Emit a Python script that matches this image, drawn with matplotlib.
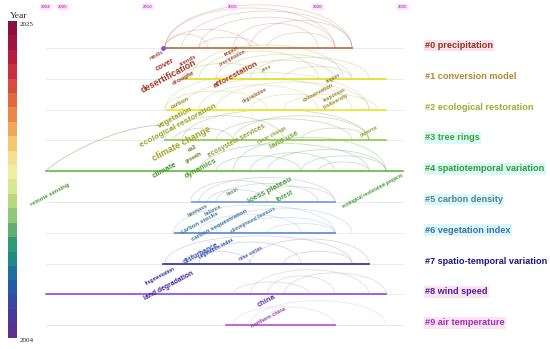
import numpy as np
import matplotlib
matplotlib.use("Agg")
import matplotlib.pyplot as plt
from matplotlib.colors import ListedColormap

# cluster rows (timeline view)
clusters = ["#0 precipitation", "#1 conversion model", "#2 ecological restoration",
            "#3 tree rings", "#4 spatiotemporal variation", "#5 carbon density",
            "#6 vegetation index", "#7 spatio-temporal variation", "#8 wind speed",
            "#9 air temperature"]
cl_start = [2011.0, 2012.0, 2011.1, 2011.0, 2004.0, 2012.6, 2011.6, 2010.9, 2004.0, 2014.6]
cl_end = [2022.0, 2024.0, 2024.0, 2024.0, 2025.0, 2021.0, 2021.0, 2023.0, 2024.0, 2021.0]
cl_line = ["#b0703a", "#e0e020", "#e8e820", "#8acc44", "#66bb44", "#6a9ae0",
           "#5a86e0", "#2a2aa8", "#8a48ee", "#b050e0"]
cl_text = ["#8a3a1c", "#b08a30", "#9ab030", "#4aa030", "#3a9a30", "#5a8090",
           "#4a6ab0", "#1a1a8a", "#5020a0", "#a030c0"]
cl_bg = ["#fde0ee", None, None, "#d8fafa", "#d8fafa", "#d8fafa", "#d8fafa", None,
         "#fde4f2", "#fde4f2"]

tick_years = [2004, 2005, 2010, 2015, 2020, 2025]

# keywords: text, year, row position, font size, colour
kw_text = ["modis", "trends", "cover", "desertification", "drought", "impact",
           "precipitation", "afforestation", "area",
           "carbon", "degradation", "region", "conservation", "responses", "biodiversity",
           "vegetation", "ecological restoration", "climate change", "co2", "growth",
           "ecosystem services", "cover change", "land use", "patterns",
           "climate", "dynamics", "remote sensing", "ecological restoration projects",
           "basin", "loess plateau", "forest", "biomass", "balance", "carbon stocks",
           "carbon sequestration", "aboveground biomass",
           "disturbance", "vegetation index", "time series",
           "fragmentation", "land degradation", "china", "northern china"]
kw_year = [2010.5, 2012.35, 2011.0, 2011.2, 2012.1, 2014.9,
           2015.0, 2015.2, 2017.0,
           2011.9, 2016.3, 2020.9, 2020.0, 2020.95, 2021.05,
           2011.6, 2011.8, 2011.95, 2012.6, 2012.7,
           2015.2, 2017.3, 2018.0, 2023.0,
           2011.0, 2013.1, 2004.25, 2023.2,
           2015.0, 2017.2, 2018.05, 2012.9, 2013.8, 2013.05,
           2014.2, 2016.2,
           2013.1, 2014.0, 2016.05,
           2010.7, 2011.2, 2017.0, 2017.1]
kw_row = [0.23, 0.39, 0.55, 0.91, 0.97, 0.10,
          0.32, 0.88, 0.65,
          1.79, 1.53, 0.97, 1.46, 1.53, 1.72,
          2.27, 2.53, 3.12, 3.25, 3.57,
          3.02, 2.82, 2.99, 2.69,
          3.96, 3.90, 4.77, 4.64,
          4.68, 4.64, 4.81, 5.26, 5.26, 5.68,
          5.75, 5.58,
          6.69, 6.53, 6.69,
          7.40, 7.73, 8.21, 8.77]
kw_size = [3.6, 4.3, 5.6, 6.4, 4.6, 3.5,
           3.5, 5.9, 3.5,
           4.4, 3.3, 3.5, 4.0, 3.5, 3.5,
           5.6, 5.9, 6.4, 4.0, 4.0,
           4.9, 3.5, 5.6, 3.5,
           5.6, 5.6, 4.2, 3.3,
           3.5, 5.6, 4.7, 4.0, 3.5, 4.4,
           4.4, 3.3,
           4.9, 3.5, 3.5,
           3.5, 4.9, 5.4, 4.0]
kw_color = ["#a04a30", "#a04030", "#b03222", "#a0341f", "#9a3a25", "#a04a35",
            "#a05a40", "#a83a20", "#909030",
            "#a08020", "#a06030", "#9a7a30", "#9a8020", "#9a8a30", "#9a8a30",
            "#a0a020", "#98a828", "#a0a020", "#607020", "#708020",
            "#90a030", "#90a030", "#80a830", "#90a030",
            "#409030", "#50a030", "#4a9a30", "#3a9a30",
            "#609060", "#50a040", "#50a040", "#4a7890", "#4a7890", "#3a7a8a",
            "#3a70a0", "#4a7aa0",
            "#3050b0", "#3050b0", "#4060b0",
            "#3030a0", "#4020a0", "#6030b0", "#9040b0"]

# arcs within a row: row, start year, end year, height (rows)
arc_row = [0, 0, 0, 0, 0, 0, 0, 0, 0, 0,
           1, 1, 1, 1, 1, 1, 1,
           2, 2, 2, 2, 2, 2, 2,
           3, 3, 3, 3, 3, 3,
           4, 4, 4, 4, 4, 4, 4,
           5, 5, 5, 5, 5,
           6, 6, 6, 6, 6,
           7, 7, 7, 7, 7,
           8, 8, 8, 8,
           9, 9]
arc_x0 = [2011, 2011, 2012, 2013, 2011, 2011, 2013, 2015, 2016, 2017,
          2012.5, 2013, 2014, 2015, 2016, 2018, 2012,
          2011, 2012, 2013, 2014, 2016, 2011, 2018,
          2011, 2012, 2014, 2015, 2019, 2011.5,
          2015, 2013, 2016, 2017, 2019, 2020, 2014,
          2013, 2014, 2013.5, 2016, 2012.5,
          2011.5, 2013, 2015, 2017, 2014,
          2011, 2013, 2016, 2018, 2012,
          2016, 2017, 2018, 2015,
          2015, 2016]
arc_x1 = [2022, 2021, 2022, 2021, 2016, 2013.5, 2016.5, 2020, 2022, 2021,
          2021.5, 2020, 2022, 2021, 2023, 2022, 2017,
          2023, 2022, 2020, 2023, 2021, 2017, 2023.5,
          2018, 2023, 2022, 2023, 2023, 2015,
          2024, 2023, 2021, 2024, 2024, 2023, 2019,
          2021, 2020, 2017, 2021, 2018,
          2021, 2019, 2021, 2021, 2022,
          2022, 2019, 2023, 2022, 2016,
          2023, 2021, 2024, 2019.5,
          2021, 2024]
arc_h = [1.4, 1.3, 1.2, 1.0, 0.6, 0.45, 0.35, 0.8, 0.9, 0.5,
         1.1, 0.9, 0.8, 0.6, 0.7, 0.4, 0.5,
         1.2, 1.0, 0.8, 0.9, 0.5, 0.6, 0.5,
         0.8, 1.0, 0.7, 0.8, 0.4, 0.4,
         1.1, 0.9, 0.6, 0.7, 0.5, 0.3, 0.5,
         0.8, 0.6, 0.4, 0.5, 0.7,
         0.9, 0.6, 0.5, 0.3, 0.8,
         0.9, 0.7, 0.8, 0.4, 0.4,
         0.8, 0.6, 0.7, 0.4,
         0.6, 0.8]
arc_color = ["#c08060", "#a0b050", "#b8c040", "#60a040", "#50a050",
             "#8090b0", "#90a8d8", "#8080c0", "#b090d0", "#e0a0d8"]

# colour scale of the year legend, 2004 (bottom) to 2025 (top)
year_colors = ["#5a3090", "#483a98", "#3848a0", "#2858a8", "#206ea0", "#208a88",
               "#309a78", "#60b070", "#90c878", "#b8d880", "#d8e890", "#eef0a0",
               "#f4e090", "#f4c870", "#f0a858", "#e88848", "#e06a40", "#d84c40",
               "#c83040", "#b81c40", "#a01444", "#8b1040"]

fig = plt.figure(figsize=(5.5, 3.49), dpi=100)
ax = fig.add_axes([0, 0, 1, 1])
ax.set_xlim(2001.294, 2033.647)
ax.set_ylim(9.773, -1.558)
ax.axis("off")
font = "Liberation Sans"

# rows
for i, name in enumerate(clusters):
    ax.plot([2004, 2025], [i, i], color="#e8e8e8", lw=0.6, zorder=1)
    ax.plot([cl_start[i], cl_end[i]], [i, i], color=cl_line[i], lw=1.2, zorder=3)
    bbox = None
    if cl_bg[i]:
        bbox = dict(boxstyle="square,pad=0.15", fc=cl_bg[i], ec="none")
    ax.text(2026.3, i - 0.08, name, fontsize=6.6, fontweight="bold", family=font,
            color=cl_text[i], ha="left", va="center", bbox=bbox, zorder=5)

# arcs
t = np.linspace(0, np.pi, 60)
for r, a, b, h in zip(arc_row, arc_x0, arc_x1, arc_h):
    mid, half = (a + b) / 2, (b - a) / 2
    ax.plot(mid + half * np.cos(t), r - h * np.sin(t), color=arc_color[r],
            lw=0.6, alpha=0.32, zorder=2)

# long arc linking remote sensing with the upper rows
q = np.linspace(0, np.pi / 2, 40)
ax.plot(2004 + (2011 - 2004) * (1 - np.cos(q)) ** 0.6, 4 - (4 - 2.5) * np.sin(q),
        color="#70a060", lw=0.6, alpha=0.5, zorder=2)

ax.scatter([2010.9], [0], s=6, color="#8a48ee", zorder=4)

# keywords
for txt, x, y, s, c in zip(kw_text, kw_year, kw_row, kw_size, kw_color):
    ax.text(x, y, txt, fontsize=s, fontweight="bold", family=font, color=c,
            rotation=28, ha="center", va="center", rotation_mode="anchor", zorder=6)

# year ticks
for yr in tick_years:
    ax.text(yr, -1.33, str(yr), fontsize=3.2, fontweight="bold", family=font,
            color="#cc44ee", ha="center", va="center",
            bbox=dict(boxstyle="square,pad=0.2", fc="#fde6f4", ec="none"))

# year legend
cmap = ListedColormap(year_colors)
cax = fig.add_axes([8 / 550, 1 - 338 / 349, 9 / 550, 317 / 349])
cax.imshow(np.arange(2004, 2026)[::-1].reshape(-1, 1), cmap=cmap, aspect="auto",
           interpolation="nearest")
cax.axis("off")
fig.text(10 / 550, 1 - 16 / 349, "Year", fontsize=6.8, family="Liberation Serif",
         color="#222222", ha="left", va="center")
fig.text(20 / 550, 1 - 25 / 349, "2025", fontsize=5.0, family="Liberation Serif",
         color="#222222", ha="left", va="center")
fig.text(20 / 550, 1 - 340 / 349, "2004", fontsize=5.0, family="Liberation Serif",
         color="#222222", ha="left", va="center")

fig.savefig("out.png", dpi=100)
